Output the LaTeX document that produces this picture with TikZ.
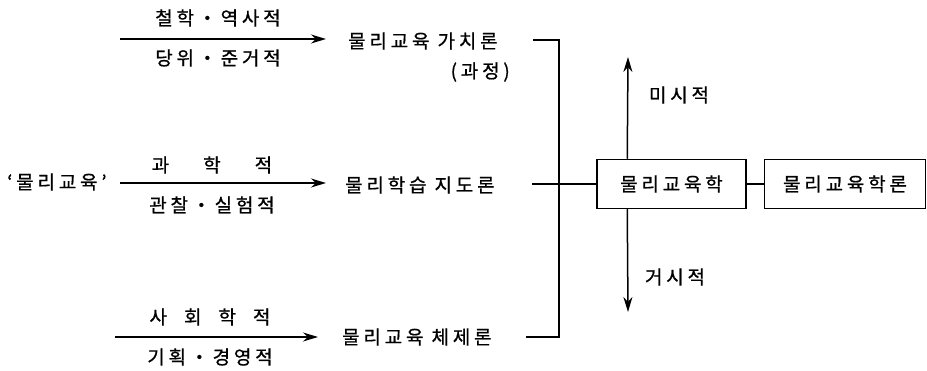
\documentclass[tikz,border=0pt]{standalone}
\usepackage{fontspec}
\setmainfont{Noto Sans CJK KR}
\newfontfamily\kr[LetterSpace=20,FakeBold=0.8]{Noto Sans CJK KR}
\usetikzlibrary{arrows.meta}
\begin{document}
\begin{tikzpicture}[x=1pt,y=-1pt,
  lbl/.style={font=\kr\fontsize{19}{21}\selectfont, inner sep=0pt},
  arr/.style={line width=1.5pt, -{Stealth[length=15pt,width=9pt]}},
  ln/.style={line width=1.5pt},
  box/.style={draw, line width=1.5pt, minimum height=49pt, inner sep=0pt, font=\kr\fontsize{19}{21}\selectfont}]
\useasboundingbox (0,0) rectangle (927,371);
% top row
\node[lbl] (top1) at (218,18) {철학・역사적};
\node[lbl] (bot1) at (218,58) {당위・준거적};
\coordinate (s1) at (120,39);
\coordinate (e1) at (326,39);
\draw[arr] (s1) -- (e1);
\node[lbl, anchor=west] (v1) at (348,41) {물리교육 가치론};
\node[lbl, anchor=east] (v1b) at (510,72) {(과정)};
% middle row
\node[lbl, anchor=west] (src) at (7,182) {‘물리교육’};
\node[lbl] (top2) at (212,165) {과\hspace{34pt}학\hspace{34pt}적};
\node[lbl] (bot2) at (212,205) {관찰・실험적};
\coordinate (s2) at (120,183);
\coordinate (e2) at (326,183);
\draw[arr] (s2) -- (e2);
\node[lbl, anchor=west] (v2) at (345,185) {물리학습 지도론};
% bottom row
\node[lbl] (top3) at (210,317) {사\hspace{17pt}회\hspace{17pt}학\hspace{17pt}적};
\node[lbl] (bot3) at (210,357) {기획・경영적};
\coordinate (s3) at (115,337);
\coordinate (e3) at (318,337);
\draw[arr] (s3) -- (e3);
\node[lbl, anchor=west] (v3) at (342,337) {물리교육 체제론};
% boxes
\node[box, minimum width=149pt] (m) at (671.5,184) {물리교육학};
\node[box, minimum width=161pt] (n) at (845,184) {물리교육학론};
\draw[ln] (m) -- (n);
% bracket
\coordinate (b1) at (533,40);
\coordinate (c1) at (559,40);
\coordinate (c3) at (559,337);
\coordinate (b3) at (526,337);
\coordinate (b2) at (532,184);
\draw[ln] (b1) -- (c1) -- (c3) -- (b3);
\draw[ln] (b2) -- (m.west);
% vertical arrows
\coordinate (ua) at ([xshift=31pt]m.north west);
\coordinate (ub) at (628,57);
\coordinate (da) at ([xshift=31pt]m.south west);
\coordinate (db) at (628,312);
\draw[arr] (ua) -- (ub);
\draw[arr] (da) -- (db);
\node[lbl] (micro) at (679,95) {미시적};
\node[lbl] (macro) at (675,277) {거시적};
\end{tikzpicture}
\end{document}
